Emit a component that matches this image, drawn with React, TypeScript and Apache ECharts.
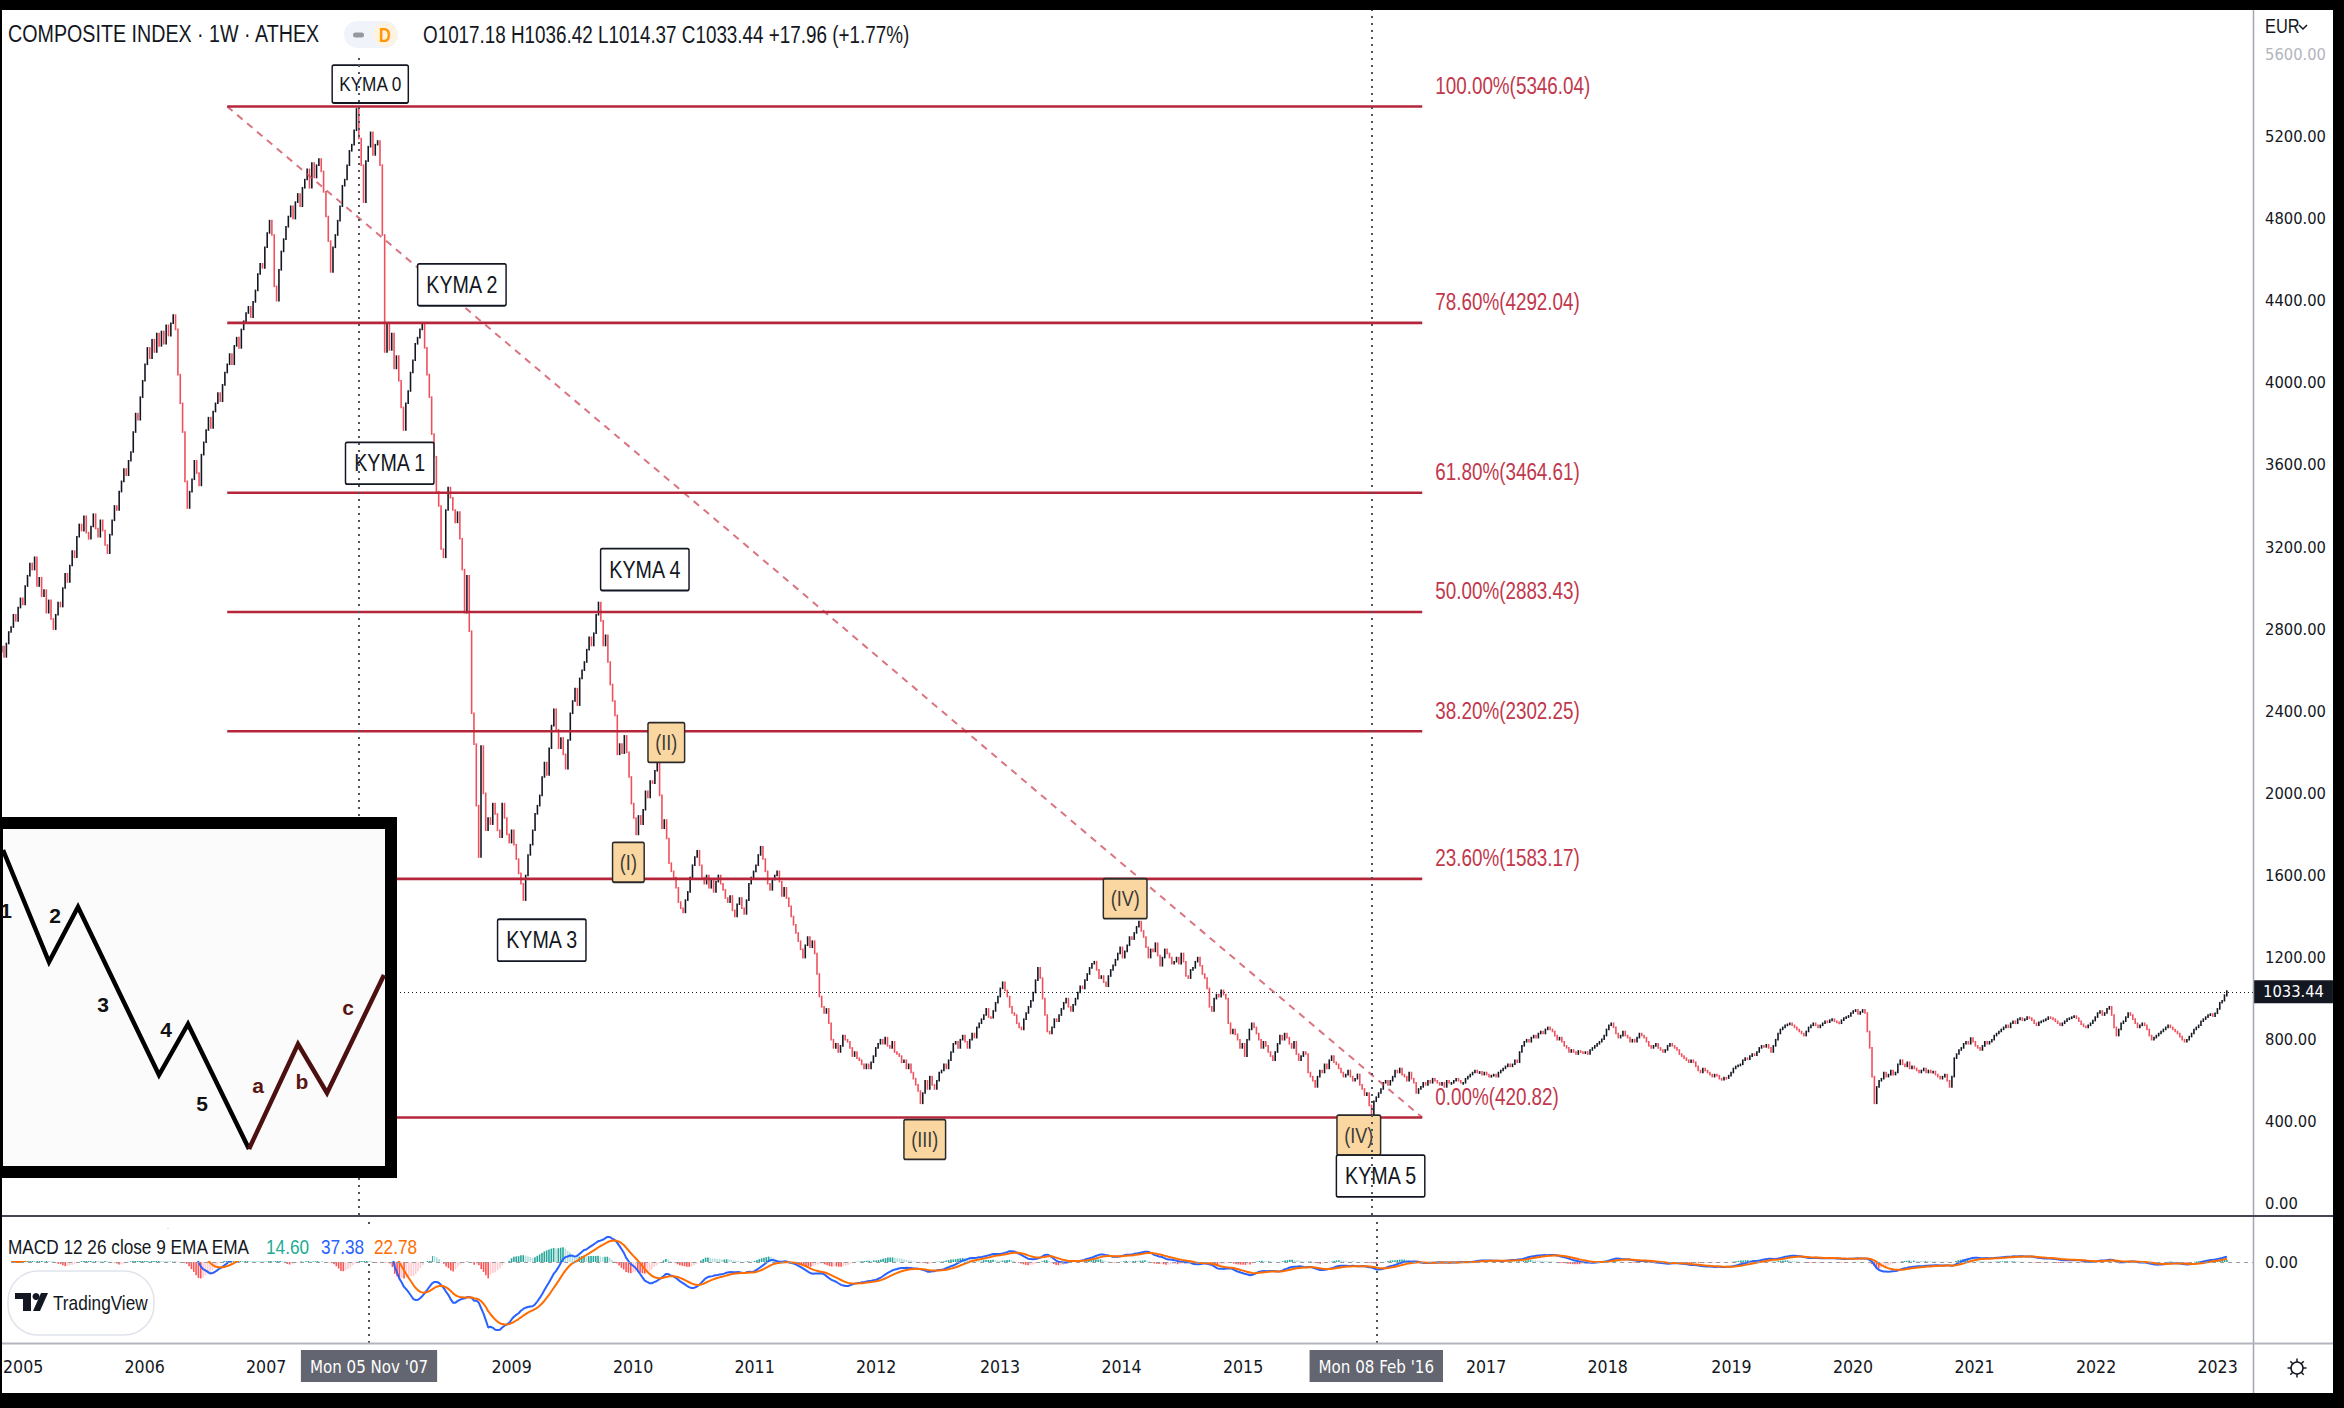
import React, { useEffect, useRef } from 'react';
import * as echarts from 'echarts';

// ---------------- DATA (weekly closes) ----------------
const FIRST_BAR_2004 = '2004-11-29';
const CLOSE_2004 = [2690, 2715, 2665, 2730, 2786];
const CLOSE_2005 = [2810, 2870, 2840, 2905, 2950, 2920, 3010, 3060, 3120, 3090, 3150, 3010, 3050, 2960, 2990, 2880, 2940,
  2850, 2800, 2870, 2930, 2910, 3000, 3070, 3030, 3110, 3180, 3150, 3250, 3310, 3280, 3350, 3270, 3240, 3300,
  3360, 3290, 3250, 3330, 3280, 3210, 3170, 3260, 3330, 3400, 3380, 3470, 3520, 3580, 3550, 3620, 3663];
const CLOSE_2006 = [3760, 3850, 3820, 3930, 4010, 4090, 4170, 4120, 4210, 4150, 4240, 4180, 4250, 4190, 4280, 4230, 4290,
  4330, 4260, 4040, 3900, 3760, 3520, 3390, 3470, 3530, 3620, 3560, 3500, 3650, 3710, 3770, 3830, 3780, 3860,
  3900, 3950, 3910, 3990, 4050, 4090, 4140, 4090, 4180, 4220, 4170, 4260, 4300, 4340, 4370, 4320, 4394];
const CLOSE_2007 = [4450, 4530, 4580, 4560, 4660, 4730, 4790, 4720, 4470, 4400, 4550, 4640, 4700, 4760, 4810, 4860, 4800,
  4880, 4920, 4860, 4950, 4990, 5040, 4950, 5070, 5000, 5060, 5090, 5030, 4930, 4810, 4690, 4540, 4660, 4720,
  4790, 4860, 4960, 4990, 5060, 5130, 5160, 5230, 5334, 5190, 5060, 4880, 5080, 5150, 5220, 5110, 5160, 5178];
const CLOSE_2008 = [5060, 4720, 4150, 4290, 4160, 4240, 4070, 4130, 4010, 3880, 3770, 3900, 3960, 4050, 4110, 4190, 4220,
  4260, 4290, 4170, 4040, 3930, 3750, 3640, 3470, 3400, 3190, 3150, 3380, 3490, 3440, 3380, 3320, 3370,
  3240, 3090, 2880, 3060, 2790, 2390, 2240, 1940, 1690, 2230, 2000, 1820, 1880, 1850, 1950, 1900, 1820, 1786];
const CLOSE_2009 = [1950, 1880, 1800, 1760, 1820, 1750, 1680, 1610, 1560, 1480, 1600, 1700, 1750, 1820, 1900, 1940, 1990,
  2080, 2150, 2090, 2220, 2330, 2410, 2310, 2220, 2270, 2190, 2120, 2260, 2390, 2450, 2510, 2430, 2560, 2600,
  2640, 2700, 2760, 2720, 2780, 2870, 2930, 2840, 2720, 2770, 2640, 2530, 2450, 2380, 2190, 2240, 2196];
const CLOSE_2010 = [2280, 2200, 2080, 1950, 1880, 1800, 1890, 1850, 1920, 2010, 1980, 2060, 2050, 2110, 2150, 1990, 1830,
  1870, 1780, 1660, 1620, 1590, 1540, 1470, 1440, 1420, 1480, 1520, 1590, 1650, 1690, 1720, 1650, 1590, 1560,
  1600, 1540, 1580, 1520, 1570, 1600, 1560, 1530, 1490, 1470, 1500, 1430, 1400, 1460, 1490, 1440, 1413];
const CLOSE_2011 = [1480, 1560, 1590, 1620, 1650, 1700, 1740, 1680, 1620, 1560, 1530, 1580, 1600, 1620, 1570, 1500, 1540,
  1490, 1450, 1400, 1360, 1320, 1280, 1240, 1200, 1260, 1300, 1250, 1280, 1220, 1120, 1010, 960, 930, 950,
  880, 800, 760, 780, 740, 770, 820, 800, 790, 760, 720, 740, 710, 700, 680, 660, 680];
const CLOSE_2012 = [660, 690, 720, 760, 780, 800, 780, 810, 770, 760, 790, 740, 730, 720, 690, 700, 660, 680,
  640, 610, 580, 550, 490, 540, 600, 560, 620, 580, 560, 600, 640, 650, 680, 660, 700,
  740, 780, 790, 760, 800, 820, 790, 760, 800, 830, 810, 860, 880, 900, 920, 950, 910, 907];
const CLOSE_2013 = [940, 980, 1010, 1050, 1080, 1040, 1010, 960, 930, 920, 880, 860, 850, 900, 930, 960, 990,
  1030, 1090, 1150, 1100, 1000, 920, 840, 830, 860, 900, 890, 920, 950, 980, 1000, 960, 940,
  970, 1000, 1030, 1060, 1050, 1090, 1120, 1150, 1170, 1180, 1140, 1100, 1110, 1080, 1060, 1110, 1140, 1162];
const CLOSE_2014 = [1190, 1220, 1250, 1200, 1230, 1260, 1300, 1290, 1320, 1350, 1375, 1330, 1300, 1250, 1200, 1240, 1230,
  1270, 1210, 1160, 1200, 1240, 1220, 1200, 1170, 1180, 1200, 1170, 1220, 1180, 1110, 1100, 1140, 1150,
  1180, 1200, 1160, 1120, 1100, 1050, 960, 940, 1000, 1020, 1010, 1040, 1020, 1000, 880, 830, 850, 826];
const CLOSE_2015 = [800, 760, 780, 720, 800, 850, 880, 860, 830, 800, 760, 790, 770, 740, 720, 700, 740,
  780, 820, 800, 830, 810, 780, 760, 790, 730, 700, 720, 740, 730, 640, 620, 600, 570, 620,
  650, 640, 680, 660, 700, 720, 690, 680, 660, 640, 620, 630, 650, 620, 600, 610, 631];
const CLOSE_2016 = [580, 560, 530, 540, 480, 425, 500, 520, 540, 560, 590, 600, 580, 600, 620, 650, 640,
  660, 630, 620, 600, 640, 610, 590, 540, 560, 570, 590, 580, 600, 590, 610, 600, 590, 580,
  590, 570, 600, 590, 590, 600, 610, 600, 590, 590, 610, 620, 630, 640, 650, 640, 643];
const CLOSE_2017 = [630, 640, 630, 620, 625, 630, 620, 640, 650, 660, 670, 680, 670, 680, 700, 690, 740,
  770, 790, 800, 790, 810, 820, 810, 830, 840, 830, 850, 860, 850, 840, 820, 800, 810, 790,
  770, 760, 740, 750, 740, 730, 745, 740, 735, 740, 730, 750, 760, 770, 780, 790, 802];
const CLOSE_2018 = [820, 850, 870, 880, 860, 830, 810, 820, 840, 820, 810, 790, 800, 790, 810, 830, 820, 810,
  790, 770, 760, 770, 780, 760, 750, 740, 750, 770, 780, 770, 760, 750, 730, 720, 710,
  700, 690, 700, 690, 670, 650, 640, 660, 650, 640, 630, 620, 630, 625, 610, 605, 615, 613];
const CLOSE_2019 = [625, 640, 660, 670, 675, 680, 700, 710, 705, 720, 730, 725, 740, 760, 770, 765, 775,
  760, 740, 770, 800, 830, 850, 860, 870, 875, 880, 870, 860, 850, 840, 830, 820, 840,
  860, 870, 880, 870, 860, 870, 880, 890, 885, 895, 900, 890, 885, 880, 895, 905, 910, 916];
const CLOSE_2020 = [930, 940, 945, 925, 935, 945, 930, 840, 760, 620, 490, 570, 600, 610, 640, 620, 630,
  650, 630, 640, 680, 700, 680, 670, 690, 660, 670, 660, 650, 640, 650, 660, 640, 650, 640,
  645, 630, 620, 610, 620, 630, 600, 570, 620, 710, 730, 750, 760, 780, 790, 780, 808];
const CLOSE_2021 = [790, 770, 760, 750, 770, 790, 780, 790, 800, 820, 830, 840, 850, 860, 870, 860, 880,
  890, 880, 900, 905, 895, 900, 910, 905, 895, 880, 870, 885, 890, 895, 900, 910, 905, 900,
  890, 880, 870, 880, 890, 900, 905, 910, 915, 905, 890, 875, 865, 860, 870, 880, 893];
const CLOSE_2022 = [910, 930, 940, 920, 930, 950, 960, 920, 860, 820, 850, 880, 890, 910, 930, 920, 900,
  880, 860, 870, 880, 870, 850, 820, 800, 810, 820, 830, 840, 850, 860, 870, 860, 850, 840,
  830, 815, 800, 790, 800, 815, 830, 850, 860, 870, 890, 900, 910, 920, 925, 915, 929];
const CLOSE_2023 = [950, 980, 990, 1017.18, 1033.44];

const YEAR_SERIES: Array<[number, number[]]> = [
  [2004, CLOSE_2004], [2005, CLOSE_2005], [2006, CLOSE_2006], [2007, CLOSE_2007], [2008, CLOSE_2008],
  [2009, CLOSE_2009], [2010, CLOSE_2010], [2011, CLOSE_2011], [2012, CLOSE_2012], [2013, CLOSE_2013],
  [2014, CLOSE_2014], [2015, CLOSE_2015], [2016, CLOSE_2016], [2017, CLOSE_2017], [2018, CLOSE_2018],
  [2019, CLOSE_2019], [2020, CLOSE_2020], [2021, CLOSE_2021], [2022, CLOSE_2022], [2023, CLOSE_2023],
];
const LAST_OHLC = { open: 1017.18, high: 1036.42, low: 1014.37, close: 1033.44, change: 17.96, pct: 1.77 };

const PRICE_TICKS = [0, 400, 800, 1200, 1600, 2000, 2400, 2800, 3200, 3600, 4000, 4400, 4800, 5200, 5600];
const PRICE_MIN = -54;
const PRICE_MAX = 5816;
const YEAR_TICKS = [2005, 2006, 2007, 2008, 2009, 2010, 2011, 2012, 2013, 2014, 2015, 2016, 2017, 2018, 2019, 2020, 2021, 2022, 2023];
const X_MIN = '2004-12-01';
const X_MAX = '2023-04-18';

const FIB_RATIOS = [1, 0.786, 0.618, 0.5, 0.382, 0.236, 0];
const FIB_VALUES = [5346.04, 4292.04, 3464.61, 2883.43, 2302.25, 1583.17, 420.82];
const FIB_START = '2006-10-09';
const FIB_END = '2016-07-08';

const VLINE_DATES = ['2007-11-05', '2016-02-08'];

const ANN_TEXT = ['KYMA 0', 'KYMA 1', 'KYMA 2', 'KYMA 3', 'KYMA 4', 'KYMA 5', '(I)', '(II)', '(III)', '(IV)', '(IV)'];
const ANN_DATE = ['2007-12-09', '2008-02-05', '2008-09-07', '2009-05-03', '2010-03-06', '2016-03-06',
  '2010-01-16', '2010-05-09', '2012-06-17', '2014-02-04', '2016-01-01'];
const ANN_PRICE = [5455, 3608, 4477, 1285, 3090, 136, 1664, 2248, 314, 1487, 336];
const ANN_KIND = ['waveSm', 'wave', 'wave', 'wave', 'wave', 'wave', 'sub', 'sub', 'sub', 'sub', 'sub'];

const MACD_FAST = 12;
const MACD_SLOW = 26;
const MACD_SIGNAL = 9;
const MACD_LEGEND_VALUES = ['14.60', '37.38', '22.78'];

// ---------------- helpers ----------------
const DAY = 86400000;
const ts = (s: string) => Date.parse(s);
function firstMonday(y: number) {
  const dow = new Date(Date.UTC(y, 0, 1)).getUTCDay();
  return Date.UTC(y, 0, 1 + ((8 - dow) % 7));
}
function ema(a: number[], n: number) {
  const k = 2 / (n + 1);
  const out: number[] = [];
  a.forEach((v, i) => out.push(i ? v * k + out[i - 1] * (1 - k) : v));
  return out;
}
function hasFont(name: string) {
  try {
    const c = document.createElement('canvas').getContext('2d')!;
    const s = 'KYMA 0123456789 TradingView abc';
    c.font = '40px monospace';
    const a = c.measureText(s).width;
    c.font = `40px "${name}", monospace`;
    const b = c.measureText(s).width;
    return Math.abs(a - b) > 0.5;
  } catch (e) {
    return false;
  }
}
const DAYS = ['Sun', 'Mon', 'Tue', 'Wed', 'Thu', 'Fri', 'Sat'];
const MONS = ['Jan', 'Feb', 'Mar', 'Apr', 'May', 'Jun', 'Jul', 'Aug', 'Sep', 'Oct', 'Nov', 'Dec'];
function badge(t: number) {
  const d = new Date(t);
  return `${DAYS[d.getUTCDay()]} ${String(d.getUTCDate()).padStart(2, '0')} ${MONS[d.getUTCMonth()]} '${String(d.getUTCFullYear()).slice(2)}`;
}

function buildOption() {
  const narrow = hasFont('Liberation Sans Narrow');
  let FAM = 'Liberation Sans Narrow';
  let K = 1;
  if (!narrow) {
    if (hasFont('DejaVu Sans Condensed')) { FAM = 'DejaVu Sans Condensed'; K = 0.8; }
    else { FAM = 'Roboto'; K = 0.82; }
  }
  const fs = (n: number) => Math.round(n * K * 10) / 10;
  const TF = narrow ? 'Liberation Sans Narrow' : 'Liberation Sans';
  const SX = narrow ? 1 : 0.82;

  const TXT = '#131722';
  const UP = '#131722';
  const DOWN = '#f0505c';
  const FIB_LINE = '#b5263a';
  const FIB_TEXT = '#c2374c';

  const WEEK = 7 * DAY;
  const rows: Array<[number, number]> = [];
  YEAR_SERIES.forEach(([y, closes]) => {
    const start = y === 2004 ? ts(FIRST_BAR_2004) : firstMonday(y);
    closes.forEach((c, i) => rows.push([start + i * WEEK, c]));
  });
  const ohlc = rows.map((r, i) => {
    const c = r[1];
    const o = i ? rows[i - 1][1] : c;
    return [r[0], o, Math.max(o, c), Math.min(o, c), c];
  });
  const last = ohlc[ohlc.length - 1];
  last[1] = LAST_OHLC.open; last[2] = LAST_OHLC.high; last[3] = LAST_OHLC.low; last[4] = LAST_OHLC.close;

  const closes = rows.map((r) => r[1]);
  const eF = ema(closes, MACD_FAST);
  const eS = ema(closes, MACD_SLOW);
  const macd = eF.map((v, i) => v - eS[i]);
  const sig = ema(macd, MACD_SIGNAL);
  const hist = macd.map((v, i) => v - sig[i]);
  const mMin = Math.min(...macd);
  const mY0 = (mMin * 81) / 68;
  const mY1 = (-mMin * 45) / 68;

  const xMin = ts(X_MIN);
  const xMax = ts(X_MAX);
  const fibStart = ts(FIB_START);
  const fibEnd = ts(FIB_END);
  const pxPerMs = 2253 / (xMax - xMin);

  const yearTicks = YEAR_TICKS.map(firstMonday).filter(
    (t) => VLINE_DATES.every((d) => Math.abs((t - ts(d)) * pxPerMs) > 75)
  );

  const annStyle: Record<string, any> = {
    waveSm: { fontSize: 21, lineHeight: 22, padding: [7, 7], bg: '#ffffff', border: TXT, color: TXT },
    wave: { fontSize: 24, lineHeight: 24, padding: [8, 9], bg: '#ffffff', border: TXT, color: TXT },
    sub: { fontSize: 22, lineHeight: 24, padding: [7, 8], bg: '#fad7a0', border: '#2a2a2a', color: '#3a3a3a' },
  };

  const text = (t: string, x: number, y: number, size: number, fill: string, extra: any = {}) => ({
    type: 'text', z: 61, x, y, scaleX: SX,
    style: { text: t, x: 0, y: 0, fill, fontSize: size, fontFamily: TF, align: 'left', textAlign: 'left', verticalAlign: 'middle', textVerticalAlign: 'middle', ...extra },
  });

  const graphic: any[] = [];
  graphic.push({ type: 'rect', z: 50, shape: { x: 0, y: 10, width: 910, height: 44 }, style: { fill: '#ffffff' } });
  graphic.push({ type: 'rect', z: 50, shape: { x: 0, y: 1229, width: 432, height: 32 }, style: { fill: '#ffffff' } });
  graphic.push(text('COMPOSITE INDEX · 1W · ATHEX', 8, 34, 24, TXT));
  graphic.push({ type: 'rect', z: 60, shape: { x: 344, y: 21, width: 54, height: 27, r: 13.5 }, style: { fill: '#f0f3fa' } });
  graphic.push({ type: 'rect', z: 61, shape: { x: 353, y: 32.5, width: 11, height: 5, r: 2.5 }, style: { fill: '#9598a1' } });
  graphic.push({ type: 'circle', z: 61, shape: { cx: 385, cy: 34.5, r: 12 }, style: { fill: '#fff3e0' } });
  graphic.push({ type: 'text', z: 62, x: 385, y: 35, scaleX: SX, style: { text: 'D', x: 0, y: 0, fill: '#ff9800', fontSize: 20, fontFamily: TF, fontWeight: 'bold', align: 'center', textAlign: 'center', verticalAlign: 'middle', textVerticalAlign: 'middle' } });
  const o = LAST_OHLC;
  graphic.push(text(`O${o.open.toFixed(2)} H${o.high.toFixed(2)} L${o.low.toFixed(2)} C${o.close.toFixed(2)} +${o.change.toFixed(2)} (+${o.pct.toFixed(2)}%)`, 423, 35, 23, TXT));
  graphic.push(text(`MACD ${MACD_FAST} ${MACD_SLOW} close ${MACD_SIGNAL} EMA EMA`, 8, 1247, 21, TXT));
  graphic.push(text(MACD_LEGEND_VALUES[0], 266, 1247, 21, '#22ab94'));
  graphic.push(text(MACD_LEGEND_VALUES[1], 321, 1247, 21, '#2962ff'));
  graphic.push(text(MACD_LEGEND_VALUES[2], 374, 1247, 21, '#ff6d00'));
  graphic.push({ type: 'rect', z: 60, shape: { x: 8, y: 1271, width: 146, height: 64, r: 30 }, style: { fill: '#ffffff', stroke: '#e0e3eb', lineWidth: 1.5 } });
  graphic.push({ type: 'rect', z: 61, shape: { x: 15, y: 1293, width: 16, height: 6 }, style: { fill: TXT } });
  graphic.push({ type: 'rect', z: 61, shape: { x: 23, y: 1293, width: 8, height: 18 }, style: { fill: TXT } });
  graphic.push({ type: 'circle', z: 61, shape: { cx: 36, cy: 1296.5, r: 3.5 }, style: { fill: TXT } });
  graphic.push({ type: 'polygon', z: 61, shape: { points: [[41, 1293], [48, 1293], [40, 1311], [33, 1311]] }, style: { fill: TXT } });
  graphic.push(text('TradingView', 53, 1303, 21, TXT));
  graphic.push({ type: 'rect', z: 70, shape: { x: -3, y: 823, width: 394, height: 349 }, style: { fill: '#fbfbfb', stroke: '#000000', lineWidth: 12 } });
  graphic.push({ type: 'polyline', z: 71, shape: { points: [[3, 850], [49, 962], [78, 907], [159, 1075], [188, 1024], [249, 1149]] }, style: { stroke: '#000000', lineWidth: 4.5, fill: 'none', lineJoin: 'miter' } });
  graphic.push({ type: 'polyline', z: 71, shape: { points: [[249, 1149], [298, 1044], [327, 1093], [384, 975]] }, style: { stroke: '#4d1010', lineWidth: 4.5, fill: 'none', lineJoin: 'miter' } });
  const insetLbl: Array<[string, number, number, string]> = [
    ['1', 6, 910, '#111111'], ['2', 55, 915, '#111111'], ['3', 103, 1004, '#111111'], ['4', 166, 1029, '#111111'],
    ['5', 202, 1103, '#111111'], ['a', 258, 1085, '#5a1515'], ['b', 302, 1081, '#5a1515'], ['c', 348, 1007, '#5a1515'],
  ];
  insetLbl.forEach(([t, x, y, c]) => graphic.push({ type: 'text', z: 72, style: { text: t, x, y, fill: c, fontSize: 21, fontWeight: 'bold', fontFamily: 'Liberation Sans', align: 'center', textAlign: 'center', verticalAlign: 'middle', textVerticalAlign: 'middle' } }));
  graphic.push({ type: 'line', z: 80, shape: { x1: 2253.5, y1: 10, x2: 2253.5, y2: 1393 }, style: { stroke: '#a3a6af', lineWidth: 1.5 } });
  graphic.push({ type: 'line', z: 80, shape: { x1: 0, y1: 1216, x2: 2333, y2: 1216 }, style: { stroke: '#434651', lineWidth: 2 } });
  graphic.push({ type: 'line', z: 80, shape: { x1: 0, y1: 1343.5, x2: 2333, y2: 1343.5 }, style: { stroke: '#b2b5be', lineWidth: 2 } });
  graphic.push(text('EUR', 2265, 26, 20, TXT));
  graphic.push({ type: 'polyline', z: 61, shape: { points: [[2299, 25], [2303, 29], [2307, 25]] }, style: { stroke: TXT, lineWidth: 1.5, fill: 'none' } });
  graphic.push({ type: 'circle', z: 61, shape: { cx: 2297, cy: 1368, r: 6 }, style: { fill: 'none', stroke: TXT, lineWidth: 1.5 } });
  for (let k = 0; k < 8; k++) {
    const a = (k * Math.PI) / 4;
    graphic.push({ type: 'line', z: 61, shape: { x1: 2297 + 6 * Math.cos(a), y1: 1368 + 6 * Math.sin(a), x2: 2297 + 9.5 * Math.cos(a), y2: 1368 + 9.5 * Math.sin(a) }, style: { stroke: TXT, lineWidth: 1.5 } });
  }
  graphic.push({ type: 'rect', z: 200, shape: { x: 0, y: 0, width: 2344, height: 10 }, style: { fill: '#000' } });
  graphic.push({ type: 'rect', z: 200, shape: { x: 0, y: 0, width: 2, height: 1408 }, style: { fill: '#000' } });
  graphic.push({ type: 'rect', z: 200, shape: { x: 2333, y: 0, width: 11, height: 1408 }, style: { fill: '#000' } });
  graphic.push({ type: 'rect', z: 200, shape: { x: 0, y: 1393, width: 2344, height: 15 }, style: { fill: '#000' } });

  const vLineStyle = { type: [2, 5], width: 2, color: '#50535e' };

  return {
    animation: false,
    backgroundColor: '#ffffff',
    grid: [
      { left: 0, right: 91, top: 10, height: 1205 },
      { left: 0, right: 91, top: 1217, height: 126 },
    ],
    xAxis: [
      { type: 'value', gridIndex: 0, min: xMin, max: xMax, show: false, splitLine: { show: false } },
      {
        type: 'value', gridIndex: 1, min: xMin, max: xMax,
        axisLine: { show: false }, axisTick: { show: false }, splitLine: { show: false },
        axisLabel: {
          customValues: yearTicks,
          formatter: (v: number) => String(new Date(v).getUTCFullYear()),
          color: TXT, fontSize: fs(22), fontFamily: FAM, margin: 15, hideOverlap: false,
        },
      },
    ],
    yAxis: [
      {
        type: 'value', gridIndex: 0, position: 'right', min: PRICE_MIN, max: PRICE_MAX,
        splitLine: { show: false }, axisLine: { show: false }, axisTick: { show: false },
        axisLabel: {
          customValues: PRICE_TICKS, margin: 12, color: TXT, fontSize: fs(20.5), fontFamily: FAM,
          formatter: (v: number) => (v === PRICE_TICKS[PRICE_TICKS.length - 1] ? `{f|${v.toFixed(2)}}` : v.toFixed(2)),
          rich: { f: { color: '#b2b5be', fontSize: fs(20.5), fontFamily: FAM } },
        },
      },
      {
        type: 'value', gridIndex: 1, position: 'right', min: mY0, max: mY1,
        splitLine: { show: false }, axisLine: { show: false }, axisTick: { show: false },
        axisLabel: { customValues: [0], margin: 12, color: TXT, fontSize: fs(20.5), fontFamily: FAM, formatter: () => '0.00' },
      },
    ],
    series: [
      {
        type: 'custom', name: 'ohlc', xAxisIndex: 0, yAxisIndex: 0, z: 2, clip: true,
        data: ohlc, encode: { x: 0, y: [1, 2, 3, 4] },
        renderItem: (p: any, api: any) => {
          const t = api.value(0);
          const op = api.value(1), hi = api.value(2), lo = api.value(3), cl = api.value(4);
          const a = api.coord([t, hi]);
          const b = api.coord([t, lo]);
          return {
            type: 'line',
            shape: { x1: a[0], y1: a[1] - 0.8, x2: a[0], y2: Math.max(b[1], a[1] + 1.2) + 0.8 },
            style: { stroke: cl >= op ? UP : DOWN, lineWidth: 1.6 },
          };
        },
      },
      {
        type: 'custom', name: 'trend', xAxisIndex: 0, yAxisIndex: 0, z: 3,
        data: [[fibStart, FIB_VALUES[0], fibEnd, FIB_VALUES[FIB_VALUES.length - 1]]],
        encode: { x: [0, 2], y: [1, 3] },
        renderItem: (p: any, api: any) => {
          const a = api.coord([api.value(0), api.value(1)]);
          const b = api.coord([api.value(2), api.value(3)]);
          return { type: 'line', shape: { x1: a[0], y1: a[1], x2: b[0], y2: b[1] }, style: { stroke: 'rgba(205,70,85,0.75)', lineWidth: 2, lineDash: [7, 6] } };
        },
      },
      {
        type: 'custom', name: 'fib', xAxisIndex: 0, yAxisIndex: 0, z: 3,
        data: FIB_VALUES.map((v, i) => [fibStart, v, fibEnd, FIB_RATIOS[i]]),
        encode: { x: [0, 2], y: 1 },
        renderItem: (p: any, api: any) => {
          const v = api.value(1);
          const r = api.value(3);
          const a = api.coord([api.value(0), v]);
          const b = api.coord([api.value(2), v]);
          return {
            type: 'group',
            children: [
              { type: 'line', shape: { x1: a[0], y1: a[1], x2: b[0], y2: b[1] }, style: { stroke: FIB_LINE, lineWidth: 2.6 } },
              {
                type: 'text', x: b[0] + 13, y: b[1] - 21, scaleX: SX,
                style: {
                  text: `${(r * 100).toFixed(2)}%(${v.toFixed(2)})`, x: 0, y: 0,
                  fill: FIB_TEXT, fontSize: 23, fontFamily: TF, align: 'left', textAlign: 'left', verticalAlign: 'middle', textVerticalAlign: 'middle',
                },
              },
            ],
          };
        },
      },
      {
        type: 'custom', name: 'annotations', xAxisIndex: 0, yAxisIndex: 0, z: 4,
        data: ANN_TEXT.map((t, i) => [ts(ANN_DATE[i]), ANN_PRICE[i], i]),
        encode: { x: 0, y: 1 },
        renderItem: (p: any, api: any) => {
          const i = api.value(2);
          const s = annStyle[ANN_KIND[i]];
          const c = api.coord([api.value(0), api.value(1)]);
          return {
            type: 'text', x: c[0], y: c[1], scaleX: SX,
            style: {
              text: ANN_TEXT[i], x: 0, y: 0, fill: s.color, fontSize: s.fontSize, fontFamily: TF, lineHeight: s.lineHeight,
              align: 'center', textAlign: 'center', verticalAlign: 'middle', textVerticalAlign: 'middle',
              backgroundColor: s.bg, borderColor: s.border, borderWidth: 1.8, padding: s.padding, borderRadius: 1,
            },
          };
        },
      },
      {
        type: 'line', name: 'marks', xAxisIndex: 0, yAxisIndex: 0, z: 5, data: [],
        markLine: {
          symbol: ['none', 'none'], silent: true, animation: false,
          data: [
            ...VLINE_DATES.map((d) => ({ xAxis: ts(d), lineStyle: vLineStyle, label: { show: false } })),
            {
              yAxis: LAST_OHLC.close,
              lineStyle: { type: [1, 3], width: 1.2, color: TXT },
              label: {
                show: true, position: 'end', distance: 1, formatter: LAST_OHLC.close.toFixed(2),
                color: '#ffffff', backgroundColor: TXT, padding: [4, 9, 3, 9], fontSize: fs(20.5), fontFamily: FAM,
              },
            },
          ],
        },
      },
      {
        type: 'bar', name: 'hist', xAxisIndex: 1, yAxisIndex: 1, z: 2, barWidth: 1.6,
        data: rows.map((r, i) => [r[0], hist[i]]),
        itemStyle: {
          color: (p: any) => {
            const i = p.dataIndex;
            const h = hist[i];
            const prev = i ? hist[i - 1] : h;
            if (h >= 0) return h >= prev ? '#26a69a' : '#b2dfdb';
            return h < prev ? '#ff5252' : '#ffcdd2';
          },
        },
        markLine: {
          symbol: ['none', 'none'], silent: true, animation: false,
          data: [
            { yAxis: 0, lineStyle: { type: [4, 4], width: 1, color: '#9598a1' }, label: { show: false } },
            ...VLINE_DATES.map((d) => ({
              xAxis: ts(d), lineStyle: vLineStyle,
              label: {
                show: true, position: 'start', distance: 7, formatter: badge(ts(d)), color: '#ffffff',
                backgroundColor: '#636670', padding: [8, 9, 7, 9], fontSize: fs(21), fontFamily: FAM,
              },
            })),
          ],
        },
      },
      {
        type: 'line', name: 'MACD', xAxisIndex: 1, yAxisIndex: 1, z: 3, showSymbol: false, symbol: 'none',
        data: rows.map((r, i) => [r[0], macd[i]]), lineStyle: { color: '#2962ff', width: 2 },
      },
      {
        type: 'line', name: 'Signal', xAxisIndex: 1, yAxisIndex: 1, z: 3, showSymbol: false, symbol: 'none',
        data: rows.map((r, i) => [r[0], sig[i]]), lineStyle: { color: '#ff6d00', width: 2 },
      },
    ],
    graphic,
  };
}

export default function App() {
  const ref = useRef<HTMLDivElement>(null);
  useEffect(() => {
    if (!ref.current) return;
    const chart = echarts.init(ref.current, null, { renderer: 'svg', width: 2344, height: 1408 });
    chart.setOption(buildOption() as any);
    return () => chart.dispose();
  }, []);
  return <div ref={ref} style={{ position: 'fixed', left: 0, top: 0, width: 2344, height: 1408, background: '#ffffff' }} />;
}
